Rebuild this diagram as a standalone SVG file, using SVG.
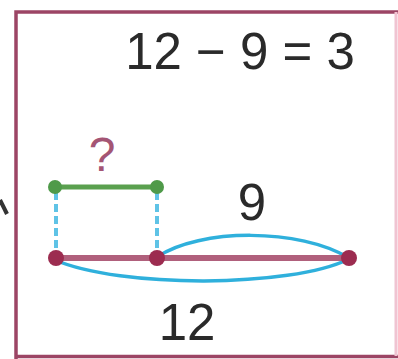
<svg xmlns="http://www.w3.org/2000/svg" width="398" height="359" viewBox="0 0 398 359">
<style>
text{font-family:"Liberation Sans",Arial,sans-serif;fill:#2a2a2a}
.frame{fill:none;stroke:#9c4565;stroke-width:3.5}
.dash{stroke:#5fc3e6;stroke-width:4;stroke-dasharray:8 4;fill:none}
.arc{stroke:#2fb0dc;stroke-width:3.5;fill:none}
</style>
<rect x="0" y="0" width="398" height="359" fill="#fff"/>
<g id="frame">
<path class="frame" d="M16,359 V12 H398"/>
<path class="frame" d="M16,356.5 H398"/>
<line x1="396" y1="12" x2="396" y2="356" stroke="#f0c4d2" stroke-width="3"/>
</g>
<g id="arrow-tip"><line x1="0" y1="200" x2="7" y2="214" stroke="#333" stroke-width="4"/></g>
<g id="equation"><text x="240" y="69" font-size="51" text-anchor="middle">12 − 9 = 3</text></g>
<g id="connectors">
<line class="dash" x1="56" y1="192" x2="56" y2="253"/>
<line class="dash" x1="157" y1="192" x2="157" y2="253"/>
<path class="arc" d="M157,257 C200,228 300,228 349,258"/>
<path class="arc" d="M55,260 C120,288 290,288 349,259"/>
</g>
<g id="small-bar">
<line x1="55" y1="187" x2="157" y2="187" stroke="#5aa04f" stroke-width="5"/>
<circle cx="55" cy="187" r="7" fill="#4f9a49"/>
<circle cx="157" cy="187" r="7" fill="#4f9a49"/>
<text x="102" y="171" font-size="48" text-anchor="middle" style="fill:#a45574">?</text>
</g>
<g id="big-bar">
<line x1="55" y1="258" x2="349" y2="258" stroke="#b0607c" stroke-width="6"/>
<circle cx="56" cy="258" r="8" fill="#9c2c50"/>
<circle cx="157" cy="258" r="8" fill="#9c2c50"/>
<circle cx="349" cy="258" r="8" fill="#9c2c50"/>
</g>
<g id="label-9"><text x="252" y="220" font-size="51" text-anchor="middle">9</text></g>
<g id="label-12"><text x="187" y="340" font-size="51" text-anchor="middle">12</text></g>
</svg>
